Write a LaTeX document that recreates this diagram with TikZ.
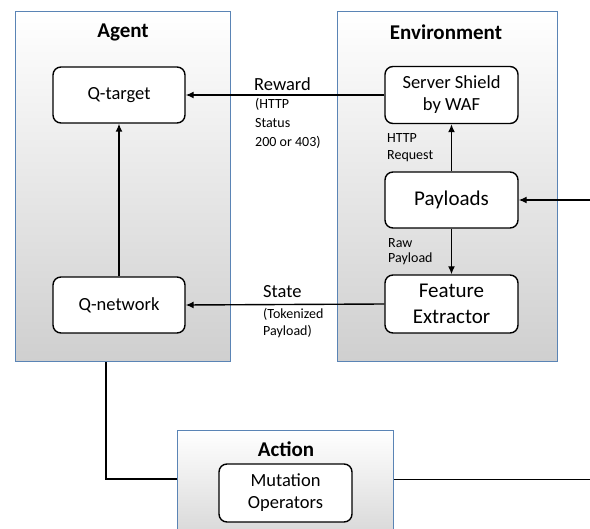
\documentclass[tikz,border=0pt]{standalone}
\usepackage{fontspec}
\setmainfont{Carlito}
\usetikzlibrary{arrows.meta}
\definecolor{bordercol}{HTML}{5A84B5}
\definecolor{shadegray}{HTML}{CFCFCF}
\begin{document}
\begin{tikzpicture}[x=1pt,y=-1pt,
 container/.style={draw=bordercol, line width=1.3pt, top color=white, bottom color=shadegray, anchor=north west, inner sep=0},
 box/.style={draw=black, line width=1.4pt, rounded corners=8pt, fill=white, align=center, inner sep=0, minimum width=132, minimum height=56, font=\fontsize{18.5}{22}\selectfont},
 bigbox/.style={box, font=\fontsize{21}{26}\selectfont},
 title/.style={font=\bfseries\fontsize{21}{24}\selectfont, inner sep=0},
 lbl/.style={font=\fontsize{18.5}{22}\selectfont, anchor=base west, inner sep=0},
 small/.style={font=\fontsize{14}{#1}\selectfont, align=left, anchor=base west, inner sep=0},
 arr/.style={line width=1.4pt, -{Latex[length=8pt,width=7pt]}},
 ln/.style={line width=1.4pt}]
\useasboundingbox (0,0) rectangle (590,529);
% containers
\node[container, minimum width=215, minimum height=350] (agent) at (15,11) {};
\node[container, minimum width=220, minimum height=350] (env) at (337,11) {};
\node[container, minimum width=216, minimum height=130] (action) at (177,430) {};
% titles
\node[title] (tagent) at (123,32) {Agent};
\node[title] (tenv) at (446,32) {Environment};
\node[title] (tact) at (286,449) {Action};
% boxes
\node[box] (qt) at (119,95) {Q-target};
\node[box] (qn) at (119,305) {Q-network};
\node[box, minimum width=133, minimum height=57] (ss) at (451.5,95) {Server Shield\\by WAF};
\node[bigbox, minimum width=133] (pl) at (451.5,200) {Payloads};
\node[bigbox, minimum width=133, minimum height=58] (fe) at (451.5,304) {Feature\\Extractor};
\node[box, minimum width=133, minimum height=58] (mo) at (285.5,493) {Mutation\\Operators};
% connectors
\coordinate (rin) at (590,200);
\coordinate (c1) at (106,479);
\coordinate (c2) at (590,479);
\draw[arr] (qn.north) -- (qt.south);
\draw[arr] (ss.west) -- (qt.east);
\draw[arr] (fe.west) -- (qn.east);
\draw[arr] (pl.north) -- (ss.south);
\draw[arr] (pl.south) -- (fe.north);
\draw[arr] (rin) -- (pl.east);
\draw[ln] (agent.south -| c1) |- (c1 -| action.west);
\draw[line width=0.9pt] (c1 -| action.east) -- (c2);
% labels
\node[lbl] (lrew) at (254,91) {Reward};
\node[small=19] (lrew2) at (255,147) {(HTTP\\Status\\200 or 403)};
\node[lbl] (lst) at (263,298) {State};
\node[small=17] (lst2) at (263,336) {(Tokenized\\Payload)};
\node[small=17] (lreq) at (387,160) {HTTP\\Request};
\node[small=15] (lraw) at (388,263) {Raw\\Payload};
\end{tikzpicture}
\end{document}
